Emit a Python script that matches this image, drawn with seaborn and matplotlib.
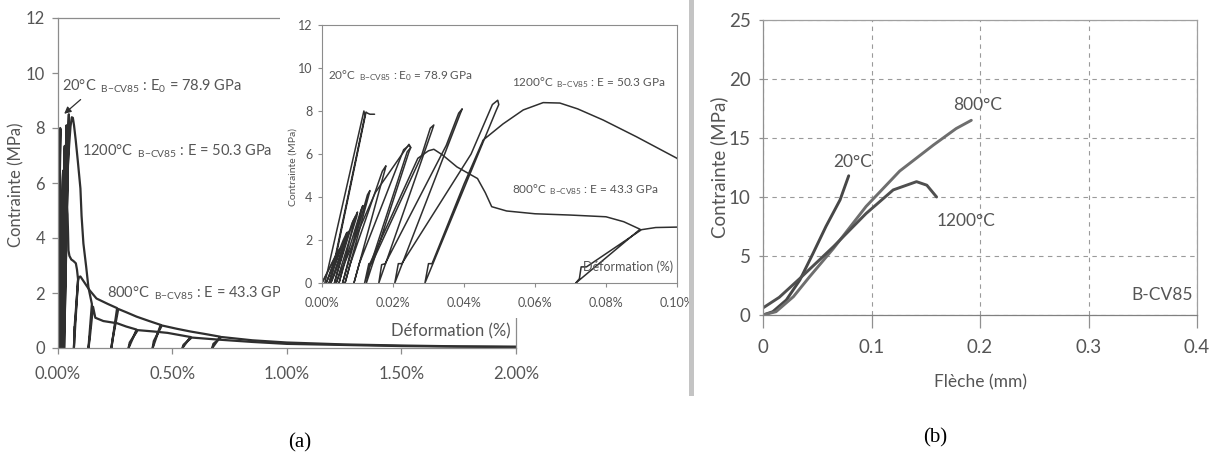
import matplotlib
matplotlib.use("Agg")
import matplotlib.pyplot as plt
import seaborn as sns
import pandas as pd
from matplotlib.patches import Rectangle
from matplotlib.ticker import FuncFormatter

# ---------------- data (a): strain (%) vs stress (MPa) ----------------
strain_20C = [0.0008, 0.0118, 0.0121, 0.0022, 0.0030, 0.0124, 0.0128, 0.0135, 0.0148]
stress_20C = [0.00, 8.00, 7.80, 0.00, 0.50, 7.95, 7.90, 7.85, 7.85]

strain_800C = [0.0000, 0.0040, 0.0050, 0.0048, 0.0020, 0.0030, 0.0068, 0.0075, 0.0072, 0.0035,
               0.0045, 0.0088, 0.0095, 0.0092, 0.0048, 0.0060, 0.0110, 0.0115, 0.0112, 0.0058,
               0.0072, 0.0128, 0.0135, 0.0132, 0.0065, 0.0080, 0.0170, 0.0180, 0.0178, 0.0090,
               0.0105, 0.0230, 0.0245, 0.0250, 0.0245, 0.0125, 0.0135, 0.0270, 0.0300, 0.0315,
               0.0340, 0.0380, 0.0438, 0.0460, 0.0478, 0.0520, 0.0600, 0.0700, 0.0800, 0.0850,
               0.0896, 0.0715, 0.0725, 0.0730, 0.0745, 0.0900, 0.0940, 0.1000,
               0.1200, 0.1400, 0.1700, 0.2200, 0.2600, 0.2350, 0.2400, 0.2650, 0.3000, 0.3450,
               0.4000, 0.4500, 0.4150, 0.4200, 0.4550, 0.5200, 0.5800, 0.6500, 0.7100, 0.6750,
               0.6800, 0.7150, 0.8500, 1.0000, 1.2500, 1.5000, 1.7500, 2.0000]
stress_800C = [0.00, 1.30, 1.60, 1.45, 0.00, 0.60, 2.20, 2.40, 2.25, 0.00,
               0.60, 2.90, 3.10, 2.95, 0.00, 0.70, 3.40, 3.60, 3.45, 0.00,
               0.80, 4.10, 4.30, 4.10, 0.00, 0.90, 5.20, 5.45, 5.30, 0.00,
               0.90, 6.20, 6.40, 6.30, 6.10, 0.00, 0.90, 5.80, 6.15, 6.22,
               5.95, 5.40, 4.86, 4.20, 3.55, 3.35, 3.22, 3.16, 3.08, 2.85,
               2.50, 0.00, 0.20, 0.75, 0.75, 2.48, 2.58, 2.60,
               2.35, 2.10, 1.80, 1.60, 1.45, 0.00, 0.30, 1.42, 1.30, 1.14,
               0.98, 0.84, 0.00, 0.25, 0.82, 0.70, 0.60, 0.50, 0.41, 0.00,
               0.15, 0.40, 0.28, 0.20, 0.13, 0.09, 0.06, 0.05]

strain_1200C = [0.0000, 0.0030, 0.0042, 0.0040, 0.0012, 0.0022, 0.0060, 0.0070, 0.0068, 0.0025,
                0.0038, 0.0085, 0.0100, 0.0098, 0.0040, 0.0052, 0.0150, 0.0230, 0.0245, 0.0250,
                0.0240, 0.0120, 0.0132, 0.0140, 0.0280, 0.0305, 0.0315, 0.0310, 0.0160, 0.0168,
                0.0178, 0.0350, 0.0385, 0.0395, 0.0390, 0.0205, 0.0215, 0.0225, 0.0420, 0.0480,
                0.0495, 0.0498, 0.0490, 0.0290, 0.0300, 0.0310, 0.0400, 0.0454, 0.0510, 0.0567,
                0.0623, 0.0670, 0.0720, 0.0792, 0.0886, 0.1000,
                0.1050, 0.1130, 0.1250, 0.1350, 0.1500, 0.1350, 0.1400, 0.1550, 0.1650, 0.2000,
                0.2600, 0.3000, 0.3450, 0.3100, 0.3150, 0.3500, 0.4200, 0.4800, 0.5800, 0.5450,
                0.5500, 0.5850, 0.7100, 0.8500, 1.0000, 1.5000, 2.0000]
stress_1200C = [0.00, 1.00, 1.40, 1.30, 0.00, 0.40, 2.00, 2.35, 2.20, 0.00,
                0.50, 2.80, 3.30, 3.10, 0.00, 0.50, 4.20, 6.10, 6.45, 6.30,
                6.10, 0.00, 0.90, 0.90, 5.90, 7.20, 7.35, 7.10, 0.00, 0.85,
                0.90, 6.40, 7.90, 8.10, 7.90, 0.00, 0.90, 0.90, 6.00, 8.30,
                8.50, 8.30, 8.00, 0.00, 0.90, 0.90, 4.60, 6.65, 7.40, 8.05,
                8.39, 8.37, 8.10, 7.58, 6.80, 5.80,
                4.80, 3.80, 2.96, 2.20, 1.60, 0.00, 0.30, 1.50, 1.10, 0.98,
                0.90, 0.78, 0.67, 0.00, 0.20, 0.65, 0.60, 0.55, 0.40, 0.00,
                0.12, 0.38, 0.30, 0.22, 0.15, 0.07, 0.03]

labels_a = ["20°C", "800°C", "1200°C"]
moduli_a = ["E$_0$ = 78.9 GPa", "E = 43.3 GPa", "E = 50.3 GPa"]
strain_ticks_main = [0.0, 0.5, 1.0, 1.5, 2.0]
strain_ticks_inset = [0.0, 0.02, 0.04, 0.06, 0.08, 0.10]
stress_ticks_a = [0, 2, 4, 6, 8, 10, 12]

# ---------------- data (b): deflection (mm) vs stress (MPa) ----------------
fleche_20C = [0.000, 0.009, 0.0215, 0.034, 0.046, 0.058, 0.071, 0.079]
contrainte_20C = [0.0, 0.28, 1.27, 2.97, 5.2, 7.5, 9.75, 11.8]
fleche_800C = [0.000, 0.012, 0.028, 0.043, 0.065, 0.095, 0.126, 0.157, 0.178, 0.192]
contrainte_800C = [0.0, 0.28, 1.55, 3.25, 5.65, 9.2, 12.2, 14.4, 15.8, 16.5]
fleche_1200C = [0.000, 0.015, 0.034, 0.065, 0.095, 0.120, 0.1415, 0.151, 0.160]
contrainte_1200C = [0.6, 1.5, 3.1, 5.8, 8.6, 10.6, 11.3, 11.0, 10.0]
fleche_ticks = [0, 0.1, 0.2, 0.3, 0.4]
contrainte_ticks_b = [0, 5, 10, 15, 20, 25]

# ---------------- style ----------------
sns.set_theme(style="white")
plt.rcParams["font.family"] = ["Lato", "DejaVu Sans"]
plt.rcParams["mathtext.fontset"] = "custom"
plt.rcParams["mathtext.rm"] = "Lato"
plt.rcParams["mathtext.it"] = "Lato:italic"
plt.rcParams["mathtext.bf"] = "Lato:bold"

TXT = "#555555"
SP = "#8c8c8c"
LINE = "#2f2f2f"

W, H = 1217, 467
fig = plt.figure(figsize=(W / 100, H / 100), dpi=100)
fig.patch.set_facecolor("white")


def fax(x0, y0, x1, y1):
    return [x0 / W, 1 - y1 / H, (x1 - x0) / W, (y1 - y0) / H]


def style_axes(ax, color=SP, lw=0.9):
    for s in ax.spines.values():
        s.set_visible(True)
        s.set_color(color)
        s.set_linewidth(lw)


def sub_label(temp, mod):
    return temp + r" $\,_{\mathrm{B{-}CV85}}$ : " + mod


series_a = [(strain_20C, stress_20C), (strain_800C, stress_800C), (strain_1200C, stress_1200C)]

# ---------------- (a) main chart ----------------
ax = fig.add_axes(fax(57.5, 18, 516, 348))
ax.set_facecolor("white")
for (sx, sy), lab in zip(series_a, labels_a):
    df = pd.DataFrame({"strain": sx, "stress": sy})
    sns.lineplot(data=df, x="strain", y="stress", sort=False, estimator=None,
                 color=LINE, lw=1.6, ax=ax, legend=False)
ax.set_xlim(0, 2.0)
ax.set_ylim(0, 12)
ax.set_xticks(strain_ticks_main)
ax.set_yticks(stress_ticks_a)
ax.xaxis.set_major_formatter(FuncFormatter(lambda v, p: f"{v:.2f}%"))
style_axes(ax)
ax.tick_params(axis="both", direction="out", length=4, width=0.9, color=SP,
               labelcolor=TXT, labelsize=12, bottom=True, left=True)
ax.tick_params(axis="x", pad=9)
ax.tick_params(axis="y", pad=5)
ax.set_xlabel("")
ax.set_ylabel("Contrainte (MPa)", color=TXT, fontsize=12)
ax.yaxis.set_label_coords(-0.073, 0.494)
ax.text(1.975, 0.6, "Déformation (%)", ha="right", va="center", color=TXT, fontsize=12)
ax.text(0.02, 9.5, sub_label(labels_a[0], moduli_a[0]), ha="left", va="center",
        color=TXT, fontsize=10.5)
ax.annotate("", xy=(0.02, 8.45), xytext=(0.11, 9.1),
            arrowprops=dict(arrowstyle="-|>", color=LINE, lw=0.9, mutation_scale=10))
ax.text(0.107, 7.15, sub_label(labels_a[2], moduli_a[2]), ha="left", va="center",
        color=TXT, fontsize=10.5)
ax.text(0.215, 2.0, sub_label(labels_a[1], moduli_a[1]), ha="left", va="center",
        color=TXT, fontsize=10.5)

# white chart area of the inset, covering part of the main chart
fig.add_artist(Rectangle((280 / W, 1 - 318 / H), (692 - 280) / W, 318 / H,
                         transform=fig.transFigure, facecolor="white",
                         edgecolor="none", zorder=1))

# ---------------- (a) inset ----------------
axi = fig.add_axes(fax(322, 25, 677, 283), zorder=2)
axi.set_facecolor("white")
for (sx, sy), lab in zip(series_a, labels_a):
    df = pd.DataFrame({"strain": sx, "stress": sy})
    sns.lineplot(data=df, x="strain", y="stress", sort=False, estimator=None,
                 color=LINE, lw=1.1, ax=axi, legend=False)
axi.set_xlim(0, 0.10)
axi.set_ylim(0, 12)
axi.set_xticks(strain_ticks_inset)
axi.set_yticks(stress_ticks_a)
axi.xaxis.set_major_formatter(FuncFormatter(lambda v, p: f"{v:.2f}%"))
style_axes(axi, lw=0.8)
axi.tick_params(axis="both", direction="out", length=3, width=0.8, color=SP,
                labelcolor=TXT, labelsize=9, bottom=True, left=True)
axi.tick_params(axis="x", pad=7)
axi.tick_params(axis="y", pad=4)
axi.set_xlabel("")
axi.set_ylabel("Contrainte (MPa)", color=TXT, fontsize=7.5)
axi.yaxis.set_label_coords(-0.068, 0.45)
axi.text(0.099, 0.75, "Déformation (%)", ha="right", va="center", color=TXT, fontsize=9)
axi.text(0.0017, 9.63, sub_label(labels_a[0], moduli_a[0]), ha="left", va="center",
         color=TXT, fontsize=8.5)
axi.text(0.0535, 9.3, sub_label(labels_a[2], moduli_a[2]), ha="left", va="center",
         color=TXT, fontsize=8.5)
axi.text(0.0535, 4.33, sub_label(labels_a[1], moduli_a[1]), ha="left", va="center",
         color=TXT, fontsize=8.5)

# page fold of the scan
fig.add_artist(Rectangle((689 / W, 1 - 396 / H), 5 / W, 396 / H,
                         transform=fig.transFigure, facecolor="#c4c4c4",
                         edgecolor="none", zorder=3))

# ---------------- (b) ----------------
axb = fig.add_axes(fax(763, 20, 1197, 315))
axb.set_facecolor("white")
series_b = [(fleche_20C, contrainte_20C, "#474747"),
            (fleche_800C, contrainte_800C, "#6e6e6e"),
            (fleche_1200C, contrainte_1200C, "#4f4f4f")]
for fx, fy, col in series_b:
    df = pd.DataFrame({"fleche": fx, "contrainte": fy})
    sns.lineplot(data=df, x="fleche", y="contrainte", sort=False, estimator=None,
                 color=col, lw=2.1, ax=axb, legend=False)
axb.set_xlim(0, 0.4)
axb.set_ylim(0, 25)
axb.set_xticks(fleche_ticks)
axb.set_yticks(contrainte_ticks_b)
axb.xaxis.set_major_formatter(FuncFormatter(lambda v, p: "0" if v == 0 else f"{v:.1f}"))
axb.grid(True, color="#9a9a9a", lw=0.8, linestyle=(0, (4, 4)))
style_axes(axb, color="#a0a0a0")
axb.spines["bottom"].set_color("#808080")
axb.spines["left"].set_color("#909090")
axb.tick_params(axis="x", direction="out", length=9, width=0.9, color="#909090",
                labelcolor=TXT, labelsize=13.5, pad=8, bottom=True)
axb.tick_params(axis="y", direction="out", length=3, width=0.9, color="#909090",
                labelcolor=TXT, labelsize=13.5, pad=6, left=True)
axb.set_xlabel("Flèche (mm)", color=TXT, fontsize=12.5)
axb.xaxis.set_label_coords(0.5, -0.2)
axb.set_ylabel("Contrainte (MPa)", color=TXT, fontsize=13.5)
axb.yaxis.set_label_coords(-0.08, 0.5)
axb.text(0.083, 13.0, labels_a[0], color=TXT, fontsize=12.5, ha="center", va="center")
axb.text(0.198, 17.8, labels_a[1], color=TXT, fontsize=12.5, ha="center", va="center")
axb.text(0.187, 8.0, labels_a[2], color=TXT, fontsize=12.5, ha="center", va="center")
axb.text(0.368, 1.7, "B-CV85", color=TXT, fontsize=12.5, ha="center", va="center")

# panel captions
fig.text(300 / W, 1 - 443 / H, "(a)", ha="center", va="center",
         family=["Liberation Serif", "DejaVu Serif"], fontsize=15, color="black")
fig.text(935 / W, 1 - 438 / H, "(b)", ha="center", va="center",
         family=["Liberation Serif", "DejaVu Serif"], fontsize=15, color="black")

fig.savefig("out.png", dpi=100, facecolor="white")
